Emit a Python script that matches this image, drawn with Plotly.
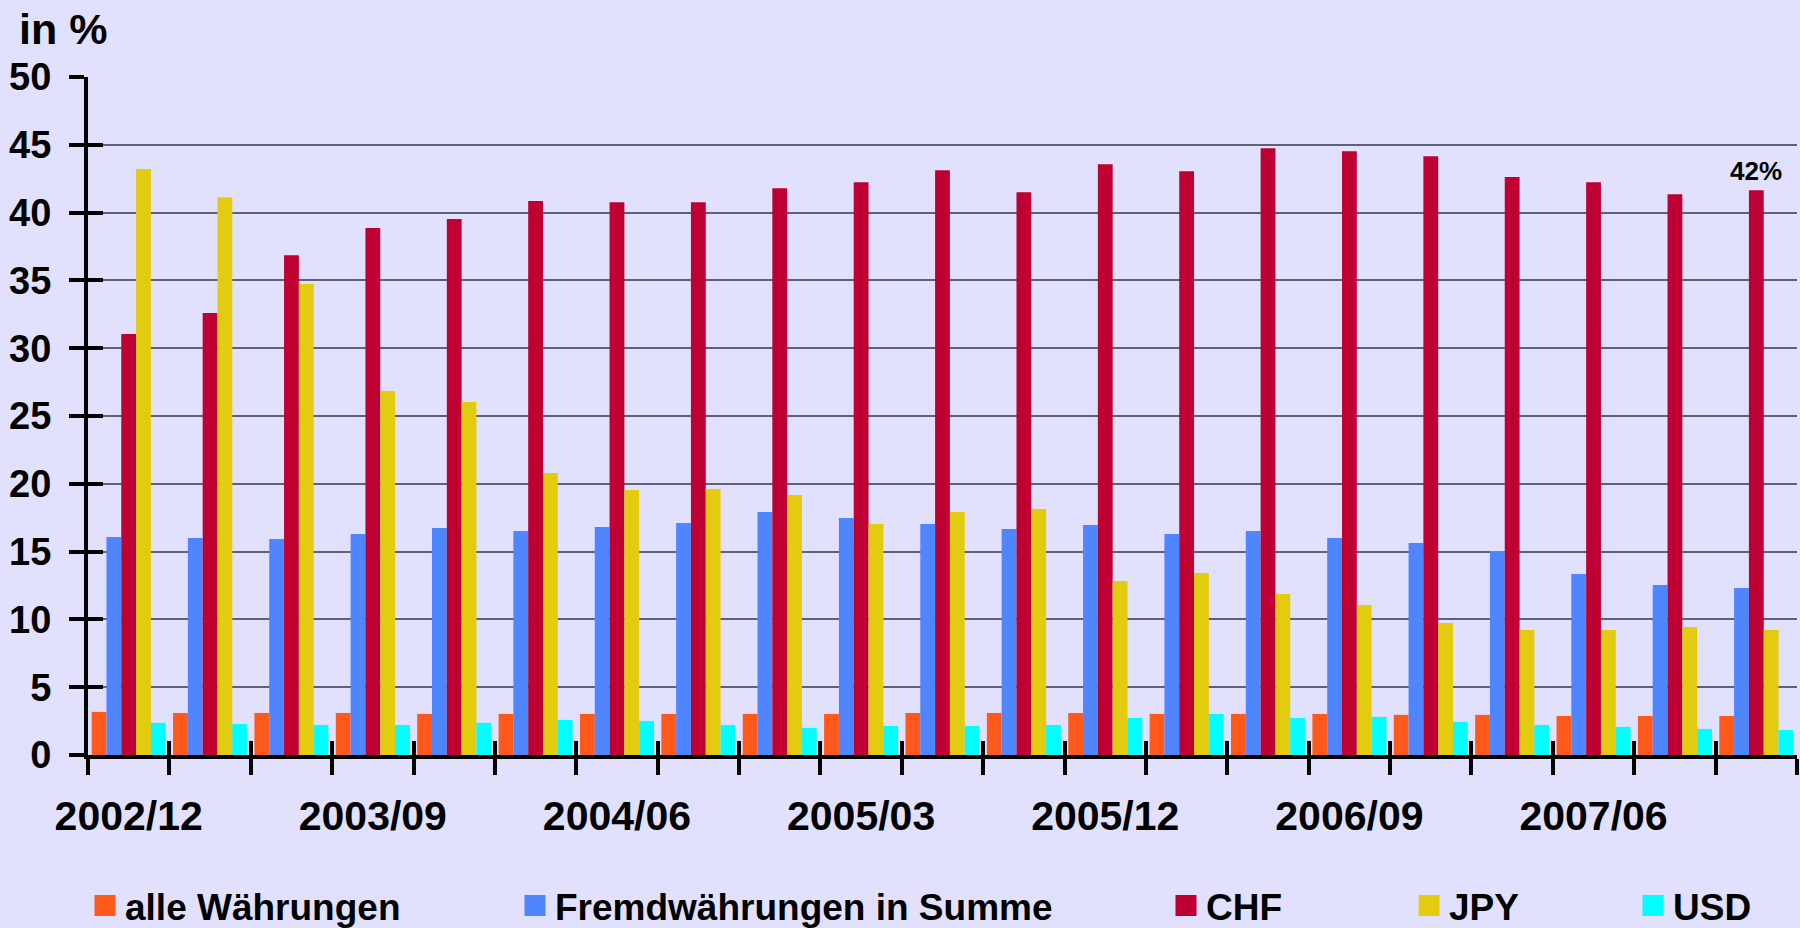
import plotly.graph_objects as go

quarters = ["2002/12", "2003/03", "2003/06", "2003/09", "2003/12", "2004/03", "2004/06",
            "2004/09", "2004/12", "2005/03", "2005/06", "2005/09", "2005/12", "2006/03",
            "2006/06", "2006/09", "2006/12", "2007/03", "2007/06", "2007/09", "2007/12"]
alle = [3.18, 3.10, 3.10, 3.10, 3.03, 3.03, 3.03, 3.03, 3.03, 3.03, 3.10, 3.10, 3.10, 3.03,
        3.03, 3.03, 2.96, 2.96, 2.88, 2.88, 2.88]
fremd = [16.08, 16.0, 15.93, 16.3, 16.74, 16.52, 16.81, 17.1, 17.92, 17.48, 17.04, 16.67, 16.96,
         16.3, 16.52, 16.0, 15.63, 15.04, 13.35, 12.54, 12.32]
chf = [31.04, 32.59, 36.86, 38.86, 39.52, 40.85, 40.77, 40.77, 41.8, 42.24, 43.13, 41.5, 43.57,
       43.05, 44.75, 44.53, 44.16, 42.62, 42.24, 41.36, 41.65]
jpy = [43.21, 41.14, 34.73, 26.84, 26.03, 20.79, 19.54, 19.61, 19.17, 17.04, 17.92, 18.14, 12.83,
       13.42, 11.87, 11.06, 9.74, 9.22, 9.22, 9.44, 9.22]
usd = [2.37, 2.29, 2.21, 2.21, 2.37, 2.59, 2.51, 2.21, 2.0, 2.14, 2.14, 2.21, 2.73, 3.03, 2.73,
       2.81, 2.44, 2.21, 2.07, 1.92, 1.84]

series_names = ["alle Währungen", "Fremdwährungen in Summe", "CHF", "JPY", "USD"]
series_values = [alle, fremd, chf, jpy, usd]
colors = ["#FF5A1C", "#4F86FF", "#BF0033", "#E3CB10", "#00FFFF"]
legend_x_px = [85, 515, 1166, 1409, 1633]

label_step = 3
xidx = list(range(len(quarters)))
tick_idx = xidx[::label_step]
tick_txt = [quarters[i] for i in tick_idx]
boundaries = [i - 0.5 for i in range(len(quarters) + 1)]

FONT = "Liberation Sans"
BG = "#E1E1FE"
W, H = 1800, 928
ML, MR, MT, MB = 88, 3, 77, 173

fig = go.Figure()
for name, vals, col in zip(series_names, series_values, colors):
    fig.add_trace(go.Bar(x=xidx, y=vals, name=name, marker=dict(color=col, line=dict(width=0)),
                         showlegend=False))

for k, (name, col) in enumerate(zip(series_names, colors)):
    lg = "legend" if k == 0 else f"legend{k+1}"
    fig.add_trace(go.Scatter(x=[None], y=[None], mode="markers", name=name,
                             marker=dict(symbol="square", size=16, color=col,
                                         line=dict(color=col, width=5)),
                             xaxis="x2", yaxis="y2", legend=lg, showlegend=True))

legend_common = dict(xref="container", yref="container", xanchor="left", yanchor="middle",
                     y=1 - 906 / H, bgcolor="rgba(0,0,0,0)", borderwidth=0,
                     font=dict(family=FONT, size=37, color="black", weight="bold"),
                     itemsizing="trace", orientation="h")
layout_legends = {}
for k, px in enumerate(legend_x_px):
    key = "legend" if k == 0 else f"legend{k+1}"
    layout_legends[key] = dict(legend_common, x=px / W)

fig.update_layout(
    width=W, height=H,
    paper_bgcolor=BG, plot_bgcolor=BG,
    margin=dict(l=ML, r=MR, t=MT, b=MB),
    barmode="group", bargap=0.09, bargroupgap=0,
    font=dict(family=FONT, color="black"),
    xaxis=dict(range=[-0.5, len(quarters) - 0.5], tickmode="array", tickvals=tick_idx,
               ticktext=tick_txt, ticks="outside", ticklen=16, tickcolor="rgba(0,0,0,0)",
               tickfont=dict(family=FONT, size=41, color="black", weight="bold"),
               ticklabelstandoff=6,
               showline=True, linewidth=4, linecolor="black", showgrid=False, zeroline=False,
               minor=dict(tickmode="array", tickvals=boundaries, ticks="outside", ticklen=16,
                          tickwidth=4, tickcolor="black", showgrid=False)),
    xaxis2=dict(range=[-0.5, len(quarters) - 0.5], overlaying="x", anchor="y2",
                tickmode="array", tickvals=boundaries, ticks="inside", ticklen=14, tickwidth=4,
                tickcolor="black", showticklabels=False, showgrid=False, showline=False,
                zeroline=False),
    yaxis=dict(range=[0, 50], tickmode="linear", tick0=0, dtick=5, ticks="outside", ticklen=15,
               tickwidth=4, tickcolor="black",
               tickfont=dict(family=FONT, size=38, color="black", weight="bold"),
               ticklabelstandoff=10,
               showline=True, linewidth=4, linecolor="black", showgrid=True,
               gridcolor="#60607A", gridwidth=2, zeroline=False),
    yaxis2=dict(range=[0, 50], overlaying="y", anchor="x2", side="left", tickmode="linear",
                tick0=0, dtick=5, ticks="inside", ticklen=15, tickwidth=4, tickcolor="black",
                showticklabels=False, showgrid=False, showline=False, zeroline=False),
    **layout_legends,
)

pw, ph = W - ML - MR, H - MT - MB
fig.add_annotation(text="in %", xref="paper", yref="paper", x=(17 - ML) / pw,
                   y=(H - MB - 29) / ph, xanchor="left", yanchor="middle", showarrow=False,
                   font=dict(family=FONT, size=43, color="black", weight="bold"))
fig.add_annotation(text=f"{round(chf[-1])}%", xref="x", yref="y", x=xidx[-1], y=chf[-1],
                   xanchor="center", yanchor="bottom", yshift=2, showarrow=False,
                   font=dict(family=FONT, size=26, color="black", weight="bold"))

fig.write_html("out.html", config={"displayModeBar": False},
               post_script="document.body.style.margin='0';document.body.style.padding='0';"
                           "document.body.style.overflow='hidden';")
